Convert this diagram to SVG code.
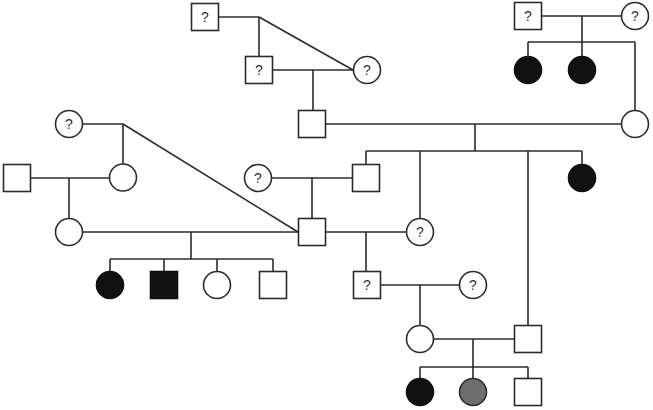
<svg xmlns="http://www.w3.org/2000/svg" width="653" height="410" viewBox="0 0 653 410">
<style>
.n{fill:#fff;stroke:#2b2b2b;stroke-width:1.6}
.a{fill:#111;stroke:#111;stroke-width:1.6}
.g{fill:#6e6e6e;stroke:#2b2b2b;stroke-width:1.6}
.c line{stroke:#2b2b2b;stroke-width:1.6}
text{font-family:"Liberation Sans",Arial,sans-serif;font-size:14px;fill:#333;text-anchor:middle}
</style>
<rect width="653" height="410" fill="#fff"/>
<g class="c" id="connectors">
<line x1="218" y1="17" x2="259" y2="17"/>
<line x1="259" y1="17" x2="259" y2="57"/>
<line x1="259" y1="17" x2="353" y2="70"/>
<line x1="273" y1="70" x2="353" y2="70"/>
<line x1="313" y1="70" x2="313" y2="110"/>
<line x1="325" y1="124" x2="621" y2="124"/>
<line x1="475" y1="124" x2="475" y2="151"/>
<line x1="366" y1="151" x2="582" y2="151"/>
<line x1="366" y1="151" x2="366" y2="164"/>
<line x1="420" y1="151" x2="420" y2="218"/>
<line x1="528" y1="151" x2="528" y2="326"/>
<line x1="582" y1="151" x2="582" y2="164"/>
<line x1="542" y1="16" x2="621" y2="16"/>
<line x1="582" y1="16" x2="582" y2="42"/>
<line x1="528" y1="42" x2="635" y2="42"/>
<line x1="528" y1="42" x2="528" y2="56"/>
<line x1="582" y1="42" x2="582" y2="56"/>
<line x1="635" y1="42" x2="635" y2="110"/>
<line x1="83" y1="124" x2="123" y2="124"/>
<line x1="123" y1="124" x2="123" y2="164"/>
<line x1="123" y1="124" x2="298" y2="232"/>
<line x1="30" y1="178" x2="109" y2="178"/>
<line x1="69" y1="178" x2="69" y2="218"/>
<line x1="83" y1="232" x2="298" y2="232"/>
<line x1="191" y1="232" x2="191" y2="259"/>
<line x1="110" y1="259" x2="273" y2="259"/>
<line x1="110" y1="259" x2="110" y2="271"/>
<line x1="164" y1="259" x2="164" y2="271"/>
<line x1="217" y1="259" x2="217" y2="271"/>
<line x1="273" y1="259" x2="273" y2="271"/>
<line x1="272" y1="178" x2="352" y2="178"/>
<line x1="312" y1="178" x2="312" y2="218"/>
<line x1="325" y1="232" x2="406" y2="232"/>
<line x1="366" y1="232" x2="366" y2="272"/>
<line x1="380" y1="285" x2="459" y2="285"/>
<line x1="420" y1="285" x2="420" y2="325"/>
<line x1="433" y1="339" x2="514" y2="339"/>
<line x1="473" y1="339" x2="473" y2="367"/>
<line x1="420" y1="367" x2="528" y2="367"/>
<line x1="420" y1="367" x2="420" y2="378"/>
<line x1="473" y1="367" x2="473" y2="378"/>
<line x1="528" y1="367" x2="528" y2="378"/>
</g>
<g id="n1"><rect class="n" x="191.5" y="3.5" width="27" height="27"/><text x="205" y="22">?</text></g>
<g id="n2"><rect class="n" x="245.5" y="56.5" width="27" height="27"/><text x="259" y="75">?</text></g>
<g id="n3"><circle class="n" cx="367" cy="70" r="13.5"/><text x="367" y="75">?</text></g>
<g id="n4"><rect class="n" x="298.5" y="110.5" width="27" height="27"/></g>
<g id="n5"><rect class="n" x="514.5" y="2.5" width="27" height="27"/><text x="528" y="21">?</text></g>
<g id="n6"><circle class="n" cx="635" cy="16" r="13.5"/><text x="635" y="21">?</text></g>
<g id="n7"><circle class="a" cx="528" cy="70" r="13.5"/></g>
<g id="n8"><circle class="a" cx="582" cy="70" r="13.5"/></g>
<g id="n9"><circle class="n" cx="635" cy="124" r="13.5"/></g>
<g id="n10"><circle class="n" cx="69" cy="124" r="13.5"/><text x="69" y="129">?</text></g>
<g id="n11"><circle class="n" cx="123" cy="177.5" r="13.5"/></g>
<g id="n12"><rect class="n" x="3.5" y="164.5" width="27" height="27"/></g>
<g id="n13"><circle class="n" cx="69" cy="232" r="13.5"/></g>
<g id="n14"><circle class="a" cx="110" cy="285" r="13.5"/></g>
<g id="n15"><rect class="a" x="150.5" y="271.5" width="27" height="27"/></g>
<g id="n16"><circle class="n" cx="217" cy="285" r="13.5"/></g>
<g id="n17"><rect class="n" x="259.5" y="271.5" width="27" height="27"/></g>
<g id="n18"><circle class="n" cx="258" cy="178" r="13.5"/><text x="258" y="183">?</text></g>
<g id="n19"><rect class="n" x="352.5" y="164.5" width="27" height="27"/></g>
<g id="n20"><rect class="n" x="298.5" y="218.5" width="27" height="27"/></g>
<g id="n21"><circle class="n" cx="420" cy="232" r="13.5"/><text x="420" y="237">?</text></g>
<g id="n22"><circle class="a" cx="582" cy="178" r="13.5"/></g>
<g id="n23"><rect class="n" x="353.5" y="271.5" width="27" height="27"/><text x="367" y="290">?</text></g>
<g id="n24"><circle class="n" cx="473" cy="285" r="13.5"/><text x="473" y="290">?</text></g>
<g id="n25"><circle class="n" cx="420" cy="339" r="13.5"/></g>
<g id="n26"><rect class="n" x="514.5" y="325.5" width="27" height="27"/></g>
<g id="n27"><circle class="a" cx="420" cy="392" r="13.5"/></g>
<g id="n28"><circle class="g" cx="473" cy="392" r="13.5"/></g>
<g id="n29"><rect class="n" x="514.5" y="378.5" width="27" height="27"/></g>
</svg>
